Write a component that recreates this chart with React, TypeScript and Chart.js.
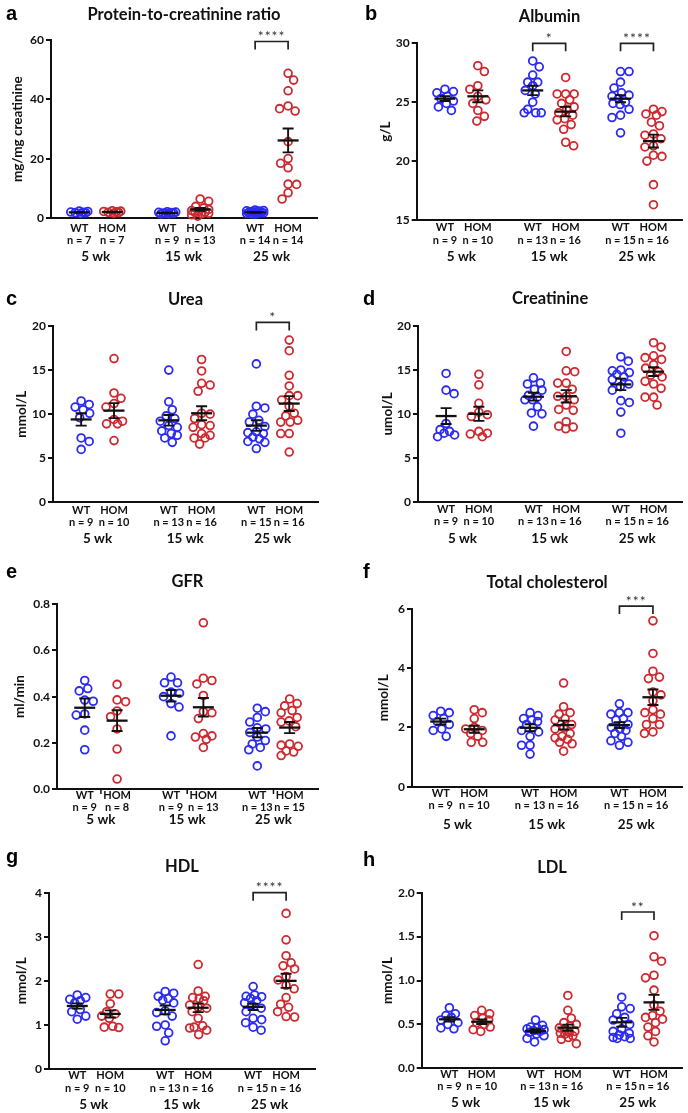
import React, { useEffect, useRef } from 'react';
import { Chart, registerables } from 'chart.js';

Chart.register(...registerables);
Chart.defaults.font.family = "Lato, 'DejaVu Sans', sans-serif";

// ---------- categories ----------
const genotypes = ['WT', 'HOM'];
const ages = ['5 wk', '15 wk', '25 wk'];

// ---------- a: protein-to-creatinine ratio ----------
const pcrN = [7, 7, 9, 13, 14, 14];
const pcrYTicks = [0, 20, 40, 60];
const pcrValues = [
  [2.0, 2.3, 1.8, 2.1, 1.6, 2.4, 1.9],
  [2.2, 2.5, 1.9, 2.0, 2.4, 1.7, 2.3],
  [1.8, 2.0, 1.5, 2.2, 1.6, 1.9, 1.4, 2.1, 1.7],
  [6.5, 5.7, 4.0, 3.5, 3.0, 2.6, 2.3, 2.1, 1.9, 1.7, 1.5, 1.2, 0.7],
  [2.0, 2.5, 1.6, 2.2, 1.8, 2.8, 1.5, 2.3, 1.9, 2.1, 1.7, 2.4, 2.6, 1.4],
  [48.8, 46.5, 42.9, 36.1, 36.9, 37.8, 25.8, 18.5, 20.1, 17.0, 11.4, 11.5, 8.6, 6.5],
];
const pcrMeans = [2.0, 2.1, 1.8, 3.0, 2.0, 26.2];
const pcrSems = [0.1, 0.1, 0.1, 0.5, 0.15, 4.0];
const pcrBrackets = [{ pair: 2, y: 59.5, stars: '****' }];

// ---------- b: albumin ----------
const albuminN = [9, 10, 13, 16, 15, 16];
const albuminYTicks = [15, 20, 25, 30];
const albuminValues = [
  [26.1, 25.9, 25.8, 25.5, 25.3, 25.1, 24.9, 24.6, 24.3],
  [28.1, 27.6, 26.4, 26.1, 25.5, 25.2, 24.9, 24.3, 23.8, 23.4],
  [28.5, 28.0, 27.3, 26.7, 26.7, 26.4, 26.0, 25.7, 25.0, 24.4, 24.1, 24.1, 24.1],
  [27.1, 25.7, 25.7, 25.7, 25.2, 24.9, 24.6, 24.4, 24.1, 23.9, 23.6, 23.5, 23.1, 22.7, 21.6, 21.3],
  [27.6, 27.6, 26.7, 26.2, 25.8, 25.6, 25.5, 25.3, 25.0, 24.9, 24.8, 24.4, 23.9, 23.7, 22.4],
  [24.4, 24.2, 24.0, 23.9, 23.3, 23.0, 22.3, 22.2, 21.9, 21.3, 21.2, 20.5, 20.4, 20.0, 18.0, 16.3],
];
const albuminMeans = [25.3, 25.5, 26.0, 24.2, 25.3, 21.7];
const albuminSems = [0.2, 0.5, 0.4, 0.4, 0.3, 0.55];
const albuminBrackets = [
  { pair: 1, y: 30, stars: '*' },
  { pair: 2, y: 30, stars: '****' },
];

// ---------- c: urea ----------
const ureaN = [9, 10, 13, 16, 15, 16];
const ureaYTicks = [0, 5, 10, 15, 20];
const ureaValues = [
  [11.5, 11.1, 10.8, 10.5, 10.1, 9.6, 7.3, 6.9, 6.0],
  [16.3, 12.4, 11.8, 11.2, 10.8, 9.2, 9.4, 8.9, 8.9, 7.0],
  [15.0, 11.4, 10.5, 9.8, 9.5, 9.2, 8.7, 8.5, 8.1, 7.8, 7.6, 7.3, 6.8],
  [16.2, 14.9, 13.5, 13.3, 12.6, 10.1, 10.0, 9.5, 8.8, 8.7, 8.5, 7.8, 7.6, 7.3, 7.3, 6.6],
  [15.7, 10.9, 10.7, 10.0, 9.3, 9.1, 8.6, 8.0, 7.9, 7.8, 7.4, 7.2, 6.9, 6.8, 6.1],
  [18.4, 17.2, 14.4, 13.2, 12.1, 12.1, 11.6, 10.9, 10.1, 9.8, 9.3, 9.1, 9.1, 7.8, 7.8, 5.7],
];
const ureaMeans = [9.4, 10.4, 9.3, 10.1, 8.7, 11.2];
const ureaSems = [0.7, 0.85, 0.6, 0.8, 0.6, 0.85];
const ureaBrackets = [{ pair: 2, y: 20.4, stars: '*' }];

// ---------- d: creatinine ----------
const creatinineN = [9, 10, 13, 16, 15, 16];
const creatinineYTicks = [0, 5, 10, 15, 20];
const creatinineValues = [
  [14.6, 12.7, 12.3, 8.9, 8.2, 8.0, 7.8, 7.6, 7.4],
  [14.5, 13.3, 11.2, 10.2, 9.9, 9.7, 8.0, 7.8, 7.7, 7.4],
  [14.1, 13.5, 13.4, 12.8, 12.7, 12.1, 11.9, 11.6, 11.6, 10.8, 10.1, 10.0, 8.6],
  [17.1, 14.9, 14.8, 13.5, 13.5, 12.8, 12.0, 12.0, 11.6, 11.0, 10.5, 10.4, 9.1, 8.6, 8.5, 8.3],
  [16.5, 16.0, 15.0, 14.9, 14.7, 14.5, 14.2, 13.9, 13.4, 13.1, 12.7, 11.5, 11.3, 10.2, 7.8],
  [18.1, 17.6, 16.6, 16.4, 16.2, 15.6, 15.2, 14.8, 14.4, 14.2, 13.7, 13.4, 12.9, 11.9, 11.9, 11.0],
];
const creatinineMeans = [9.75, 10.0, 11.95, 12.0, 13.35, 14.8];
const creatinineSems = [0.9, 0.8, 0.45, 0.7, 0.65, 0.5];
const creatinineBrackets: { pair: number; y: number; stars: string }[] = [];

// ---------- e: GFR ----------
const gfrN = [9, 8, 9, 13, 13, 15];
const gfrYTicks = [0, 0.2, 0.4, 0.6, 0.8];
const gfrValues = [
  [0.47, 0.435, 0.425, 0.385, 0.38, 0.325, 0.32, 0.255, 0.17],
  [0.453, 0.386, 0.378, 0.338, 0.313, 0.26, 0.173, 0.043],
  [0.485, 0.46, 0.46, 0.42, 0.415, 0.4, 0.37, 0.355, 0.23],
  [0.72, 0.48, 0.47, 0.455, 0.405, 0.335, 0.33, 0.305, 0.24, 0.23, 0.225, 0.215, 0.18],
  [0.35, 0.335, 0.31, 0.29, 0.265, 0.26, 0.245, 0.225, 0.21, 0.195, 0.18, 0.17, 0.1],
  [0.39, 0.37, 0.36, 0.34, 0.33, 0.31, 0.295, 0.29, 0.27, 0.195, 0.19, 0.185, 0.165, 0.16, 0.145],
];
const gfrMeans = [0.352, 0.296, 0.404, 0.354, 0.244, 0.266];
const gfrSems = [0.04, 0.045, 0.025, 0.04, 0.02, 0.024];
const gfrBrackets: { pair: number; y: number; stars: string }[] = [];

// ---------- f: total cholesterol ----------
const cholN = [9, 10, 13, 16, 15, 16];
const cholYTicks = [0, 2, 4, 6];
const cholValues = [
  [2.55, 2.5, 2.4, 2.3, 2.2, 2.1, 1.95, 1.9, 1.7],
  [2.6, 2.5, 2.3, 2.0, 1.95, 1.9, 1.8, 1.7, 1.5, 1.5],
  [2.5, 2.4, 2.3, 2.25, 2.2, 2.1, 2.0, 1.9, 1.85, 1.7, 1.4, 1.4, 1.1],
  [3.5, 2.7, 2.5, 2.45, 2.3, 2.25, 2.1, 2.0, 1.95, 1.8, 1.7, 1.65, 1.6, 1.5, 1.45, 1.2],
  [2.8, 2.5, 2.5, 2.45, 2.3, 2.25, 2.1, 2.0, 1.95, 1.9, 1.8, 1.7, 1.55, 1.5, 1.4],
  [5.6, 4.5, 3.9, 3.7, 3.65, 3.2, 3.1, 2.9, 2.6, 2.5, 2.45, 2.3, 2.1, 2.1, 1.85, 1.8],
];
const cholMeans = [2.2, 1.94, 1.99, 2.08, 2.08, 3.02];
const cholSems = [0.1, 0.12, 0.12, 0.15, 0.1, 0.26];
const cholBrackets = [{ pair: 2, y: 6.1, stars: '***' }];

// ---------- g: HDL ----------
const hdlN = [9, 10, 13, 16, 15, 16];
const hdlYTicks = [0, 1, 2, 3, 4];
const hdlValues = [
  [1.68, 1.62, 1.58, 1.55, 1.5, 1.35, 1.3, 1.2, 1.13],
  [1.7, 1.7, 1.48, 1.3, 1.25, 1.2, 1.15, 0.97, 0.95, 0.94],
  [1.76, 1.72, 1.65, 1.6, 1.56, 1.5, 1.32, 1.28, 1.2, 1.0, 0.97, 0.82, 0.64],
  [2.37, 1.77, 1.65, 1.62, 1.6, 1.55, 1.45, 1.4, 1.38, 1.3, 1.15, 0.98, 0.95, 0.93, 0.88, 0.78],
  [1.87, 1.68, 1.65, 1.64, 1.6, 1.55, 1.5, 1.45, 1.38, 1.3, 1.15, 1.12, 1.05, 0.95, 0.88],
  [3.53, 2.93, 2.57, 2.41, 2.34, 2.27, 2.1, 2.02, 1.9, 1.82, 1.62, 1.47, 1.4, 1.3, 1.19, 1.18],
];
const hdlMeans = [1.43, 1.25, 1.34, 1.39, 1.41, 2.0];
const hdlSems = [0.06, 0.08, 0.1, 0.1, 0.07, 0.16];
const hdlBrackets = [{ pair: 2, y: 4.0, stars: '****' }];

// ---------- h: LDL ----------
const ldlN = [9, 10, 13, 16, 15, 16];
const ldlYTicks = [0, 0.5, 1.0, 1.5, 2.0];
const ldlValues = [
  [0.69, 0.62, 0.6, 0.58, 0.55, 0.52, 0.5, 0.46, 0.45],
  [0.66, 0.62, 0.6, 0.57, 0.55, 0.52, 0.5, 0.47, 0.44, 0.42],
  [0.55, 0.49, 0.47, 0.46, 0.45, 0.44, 0.43, 0.42, 0.41, 0.39, 0.37, 0.34, 0.3],
  [0.83, 0.66, 0.57, 0.52, 0.5, 0.48, 0.46, 0.44, 0.42, 0.41, 0.4, 0.39, 0.37, 0.35, 0.33, 0.28],
  [0.81, 0.7, 0.68, 0.62, 0.58, 0.55, 0.5, 0.45, 0.42, 0.4, 0.38, 0.36, 0.35, 0.34, 0.34],
  [1.51, 1.27, 1.22, 1.06, 1.03, 0.89, 0.72, 0.65, 0.6, 0.58, 0.56, 0.52, 0.47, 0.42, 0.37, 0.3],
];
const ldlMeans = [0.558, 0.53, 0.425, 0.463, 0.524, 0.751];
const ldlSems = [0.025, 0.025, 0.02, 0.035, 0.05, 0.085];
const ldlBrackets = [{ pair: 2, y: 1.78, stars: '**' }];

// ---------- layout (positions / styles) ----------
const groupPositions = [0, 1.05, 2.8, 3.85, 5.6, 6.65];
const agePositions = [0.525, 3.325, 6.125];
const X_MIN = -0.9;
const X_MAX = 7.57;
const COLORS = ['#2b2bf2', '#cc2a30'];
const INK = '#111111';

type Box = {
  x: number; y: number; w: number; h: number;
  L: number; T: number; R: number; B: number;
  titleY: number; wtY: number; wkY: number; yTitleX: number;
  letterX: number; letterBase: number;
};

type PanelDef = {
  letter: string; title: string; yTitle: string;
  values: number[][]; means: number[]; sems: number[]; n: number[];
  yTicks: number[]; decimals: number;
  brackets: { pair: number; y: number; stars: string }[];
  midTicks?: boolean; box: Box;
};

const panels: PanelDef[] = [
  {
    letter: 'a', title: 'Protein-to-creatinine ratio', yTitle: 'mg/mg creatinine',
    values: pcrValues, means: pcrMeans, sems: pcrSems, n: pcrN, yTicks: pcrYTicks, decimals: 0, brackets: pcrBrackets,
    box: { x: 0, y: 0, w: 344, h: 270, L: 51, T: 40, R: 317, B: 218.3, titleY: 15, wtY: 228, wkY: 257, yTitleX: 18, letterX: 6, letterBase: 20 },
  },
  {
    letter: 'b', title: 'Albumin', yTitle: 'g/L',
    values: albuminValues, means: albuminMeans, sems: albuminSems, n: albuminN, yTicks: albuminYTicks, decimals: 0, brackets: albuminBrackets,
    box: { x: 344, y: 0, w: 344, h: 270, L: 72.7, T: 43.3, R: 340, B: 220, titleY: 17, wtY: 227.7, wkY: 256.7, yTitleX: 41.7, letterX: 365, letterBase: 20 },
  },
  {
    letter: 'c', title: 'Urea', yTitle: 'mmol/L',
    values: ureaValues, means: ureaMeans, sems: ureaSems, n: ureaN, yTicks: ureaYTicks, decimals: 0, brackets: ureaBrackets,
    box: { x: 0, y: 270, w: 344, h: 275, L: 53, T: 56, R: 318, B: 232.3, titleY: 30, wtY: 240, wkY: 268.3, yTitleX: 21.7, letterX: 6, letterBase: 305 },
  },
  {
    letter: 'd', title: 'Creatinine', yTitle: 'umol/L',
    values: creatinineValues, means: creatinineMeans, sems: creatinineSems, n: creatinineN, yTicks: creatinineYTicks, decimals: 0, brackets: creatinineBrackets,
    box: { x: 344, y: 270, w: 344, h: 275, L: 74, T: 56, R: 340, B: 231.7, titleY: 29, wtY: 239.3, wkY: 268.3, yTitleX: 43.3, letterX: 363, letterBase: 305 },
  },
  {
    letter: 'e', title: 'GFR', yTitle: 'ml/min',
    values: gfrValues, means: gfrMeans, sems: gfrSems, n: gfrN, yTicks: gfrYTicks, decimals: 1, brackets: gfrBrackets, midTicks: true,
    box: { x: 0, y: 545, w: 344, h: 290, L: 57, T: 59.3, R: 318, B: 244, titleY: 36.7, wtY: 250, wkY: 275, yTitleX: 20, letterX: 6, letterBase: 578 },
  },
  {
    letter: 'f', title: 'Total cholesterol', yTitle: 'mmol/L',
    values: cholValues, means: cholMeans, sems: cholSems, n: cholN, yTicks: cholYTicks, decimals: 0, brackets: cholBrackets,
    box: { x: 344, y: 545, w: 344, h: 290, L: 68, T: 64, R: 340, B: 241.7, titleY: 37.7, wtY: 248.3, wkY: 280, yTitleX: 40, letterX: 363, letterBase: 578 },
  },
  {
    letter: 'g', title: 'HDL', yTitle: 'mmol/L',
    values: hdlValues, means: hdlMeans, sems: hdlSems, n: hdlN, yTicks: hdlYTicks, decimals: 0, brackets: hdlBrackets,
    box: { x: 0, y: 815, w: 344, h: 298, L: 49, T: 77.7, R: 315, B: 254, titleY: 51.7, wtY: 260.7, wkY: 290, yTitleX: 21.7, letterX: 6, letterBase: 863 },
  },
  {
    letter: 'h', title: 'LDL', yTitle: 'mmol/L',
    values: ldlValues, means: ldlMeans, sems: ldlSems, n: ldlN, yTicks: ldlYTicks, decimals: 1, brackets: ldlBrackets,
    box: { x: 344, y: 815, w: 344, h: 298, L: 77.7, T: 77.7, R: 340, B: 253.3, titleY: 52.7, wtY: 259, wkY: 287.3, yTitleX: 43.3, letterX: 363, letterBase: 866 },
  },
];

const TICK_FONT = 11;
const TICK_LH = 1.14;
const AGE_FONT = 13.5;
const AGE_LH = 1.1;
const TITLE_FONT = 16.5;
const YTITLE_FONT = 13.5;
const YTICK_FONT = 12;

// deterministic beeswarm layout (pixel space)
function swarm(py: number[], d: number, maxOff: number): number[] {
  const idx = py.map((_, i) => i).sort((a, b) => py[a] - py[b]);
  const placed: { x: number; y: number }[] = [];
  const out = new Array(py.length).fill(0);
  let flip = 1;
  for (const i of idx) {
    const y = py[i];
    let best = 0;
    let bestD = -1;
    let found = false;
    const steps = Math.round(maxOff * 2);
    for (let k = 0; k <= steps && !found; k++) {
      const cands = k === 0 ? [0] : [flip * k * 0.5, -flip * k * 0.5];
      for (const x of cands) {
        let m = Infinity;
        for (const p of placed) {
          const dd = Math.hypot(p.x - x, p.y - y);
          if (dd < m) m = dd;
        }
        if (m >= d) { best = x; found = true; break; }
        if (m > bestD + 0.01) { bestD = m; best = x; }
      }
    }
    if (best !== 0) flip = best > 0 ? -1 : 1;
    out[i] = best;
    placed.push({ x: best, y });
  }
  return out;
}

function makeStatsPlugin(p: PanelDef) {
  return {
    id: 'stats_' + p.letter,
    afterDatasetsDraw(chart: any) {
      const { ctx, chartArea } = chart;
      const xs = chart.scales.x;
      const ys = chart.scales.y;
      ctx.save();
      ctx.strokeStyle = INK;
      ctx.lineCap = 'butt';
      p.means.forEach((m, i) => {
        const cx = xs.getPixelForValue(groupPositions[i]);
        const ym = ys.getPixelForValue(m);
        const yt = ys.getPixelForValue(m + p.sems[i]);
        const yb = ys.getPixelForValue(m - p.sems[i]);
        ctx.lineWidth = 2.3;
        ctx.beginPath();
        ctx.moveTo(cx - 10.5, ym);
        ctx.lineTo(cx + 10.5, ym);
        ctx.stroke();
        ctx.lineWidth = 1.9;
        ctx.beginPath();
        ctx.moveTo(cx, yt);
        ctx.lineTo(cx, yb);
        ctx.moveTo(cx - 5.5, yt);
        ctx.lineTo(cx + 5.5, yt);
        ctx.moveTo(cx - 5.5, yb);
        ctx.lineTo(cx + 5.5, yb);
        ctx.stroke();
      });
      p.brackets.forEach((b) => {
        const x1 = xs.getPixelForValue(groupPositions[b.pair * 2]);
        const x2 = xs.getPixelForValue(groupPositions[b.pair * 2 + 1]);
        const yb = ys.getPixelForValue(b.y);
        ctx.lineWidth = 1.7;
        ctx.strokeStyle = '#222';
        ctx.beginPath();
        ctx.moveTo(x1, yb + 8);
        ctx.lineTo(x1, yb);
        ctx.lineTo(x2, yb);
        ctx.lineTo(x2, yb + 8);
        ctx.stroke();
        ctx.fillStyle = '#333';
        ctx.font = "14px Lato, 'DejaVu Sans', sans-serif";
        try { (ctx as any).letterSpacing = '1px'; } catch (e) { /* ignore */ }
        ctx.textAlign = 'center';
        ctx.textBaseline = 'alphabetic';
        ctx.fillText(b.stars, (x1 + x2) / 2, yb - 0.5);
        try { (ctx as any).letterSpacing = '0px'; } catch (e) { /* ignore */ }
      });
      if (p.midTicks) {
        ctx.strokeStyle = INK;
        ctx.lineWidth = 1.5;
        for (let k = 0; k < 3; k++) {
          const mx = xs.getPixelForValue((groupPositions[2 * k] + groupPositions[2 * k + 1]) / 2);
          ctx.beginPath();
          ctx.moveTo(mx, chartArea.bottom);
          ctx.lineTo(mx, chartArea.bottom + 5);
          ctx.stroke();
        }
      }
      ctx.restore();
    },
  };
}

function buildConfig(p: PanelDef): any {
  const b = p.box;
  const titleLH = TITLE_FONT * 1.2;
  const tickLH = TICK_FONT * TICK_LH;
  const ageLH = AGE_FONT * AGE_LH;
  const yTitleLH = YTITLE_FONT * 1.2;
  const yMin = p.yTicks[0];
  const yMax = p.yTicks[p.yTicks.length - 1];
  return {
    type: 'scatter',
    data: {
      datasets: p.values.map((vals, gi) => ({
        label: genotypes[gi % 2] + ' ' + ages[Math.floor(gi / 2)],
        data: vals.map((v) => ({ x: groupPositions[gi], y: v })),
        pointStyle: 'circle',
        pointRadius: 3.9,
        pointHoverRadius: 3.9,
        pointBorderWidth: 1.8,
        borderColor: COLORS[gi % 2],
        backgroundColor: 'rgba(0,0,0,0)',
        showLine: false,
        clip: false,
      })),
    },
    options: {
      animation: false,
      responsive: false,
      events: [],
      layout: { padding: { left: 0, top: 0, right: b.w - b.R, bottom: b.h - (b.wkY + ageLH / 2) } },
      plugins: {
        legend: { display: false },
        tooltip: { enabled: false },
        title: {
          display: true,
          text: p.title,
          fullSize: false,
          color: INK,
          font: { size: TITLE_FONT, weight: 'bold', lineHeight: 1.2 },
          padding: { top: b.titleY - titleLH / 2, bottom: b.T - b.titleY - titleLH / 2 },
        },
      },
      scales: {
        x: {
          type: 'linear',
          position: 'bottom',
          weight: 0,
          min: X_MIN,
          max: X_MAX,
          afterBuildTicks: (s: any) => { s.ticks = groupPositions.map((v) => ({ value: v })); },
          afterFit: (s: any) => { s.height = b.wkY - ageLH / 2 - b.B; },
          grid: { display: false, drawTicks: false },
          border: { display: true, color: INK, width: 2 },
          ticks: {
            autoSkip: false,
            maxRotation: 0,
            minRotation: 0,
            padding: b.wtY - b.B - tickLH / 2,
            color: INK,
            font: { size: TICK_FONT, weight: 'bold', lineHeight: TICK_LH },
            callback: (_v: any, i: number) => [genotypes[i % 2], 'n = ' + p.n[i]],
          },
        },
        x2: {
          type: 'linear',
          position: 'bottom',
          weight: 1,
          min: X_MIN,
          max: X_MAX,
          afterBuildTicks: (s: any) => { s.ticks = agePositions.map((v) => ({ value: v })); },
          afterFit: (s: any) => { s.height = ageLH; },
          grid: { display: false, drawTicks: false },
          border: { display: false },
          ticks: {
            autoSkip: false,
            maxRotation: 0,
            minRotation: 0,
            padding: 0,
            color: INK,
            font: { size: AGE_FONT, weight: 'bold', lineHeight: AGE_LH },
            callback: (_v: any, i: number) => ages[i],
          },
        },
        y: {
          type: 'linear',
          min: yMin,
          max: yMax,
          afterBuildTicks: (s: any) => { s.ticks = p.yTicks.map((v) => ({ value: v })); },
          afterFit: (s: any) => { s.width = b.L; },
          grid: { display: true, drawOnChartArea: false, drawTicks: true, tickLength: 5, color: INK, lineWidth: 2 },
          border: { display: true, color: INK, width: 2 },
          ticks: {
            padding: 2,
            color: INK,
            font: { size: YTICK_FONT, weight: 'bold' },
            callback: (v: any) => Number(v).toFixed(p.decimals),
          },
          title: {
            display: true,
            text: p.yTitle,
            color: INK,
            font: { size: YTITLE_FONT, weight: 'bold', lineHeight: 1.2 },
            padding: { top: b.yTitleX - yTitleLH / 2, bottom: 0 },
          },
        },
      },
    },
    plugins: [makeStatsPlugin(p)],
  };
}

function Panel({ p }: { p: PanelDef }) {
  const ref = useRef<HTMLCanvasElement>(null);
  useEffect(() => {
    const canvas = ref.current;
    if (!canvas) return;
    const chart = new Chart(canvas, buildConfig(p));
    const xs: any = chart.scales.x;
    const ys: any = chart.scales.y;
    const ppu = xs.getPixelForValue(1) - xs.getPixelForValue(0);
    chart.data.datasets.forEach((ds: any, gi: number) => {
      const vals = p.values[gi];
      const py = vals.map((v) => ys.getPixelForValue(v));
      const off = swarm(py, 8.5, 8.5);
      ds.data = vals.map((v, k) => ({ x: groupPositions[gi] + off[k] / ppu, y: v }));
    });
    chart.update();
    return () => chart.destroy();
  }, [p]);
  const b = p.box;
  return (
    <canvas
      ref={ref}
      width={b.w}
      height={b.h}
      style={{ position: 'absolute', left: b.x, top: b.y, width: b.w, height: b.h }}
    />
  );
}

export default function App() {
  return (
    <div style={{ position: 'absolute', left: 0, top: 0, width: 688, height: 1113, background: '#fff', overflow: 'hidden' }}>
      {panels.map((p) => (
        <Panel key={p.letter} p={p} />
      ))}
      {panels.map((p) => (
        <div
          key={'L' + p.letter}
          style={{
            position: 'absolute',
            left: p.box.letterX,
            top: p.box.letterBase - 17,
            font: 'bold 20px "Liberation Sans", Arial, sans-serif',
            lineHeight: '20px',
            color: '#000',
          }}
        >
          {p.letter}
        </div>
      ))}
    </div>
  );
}
